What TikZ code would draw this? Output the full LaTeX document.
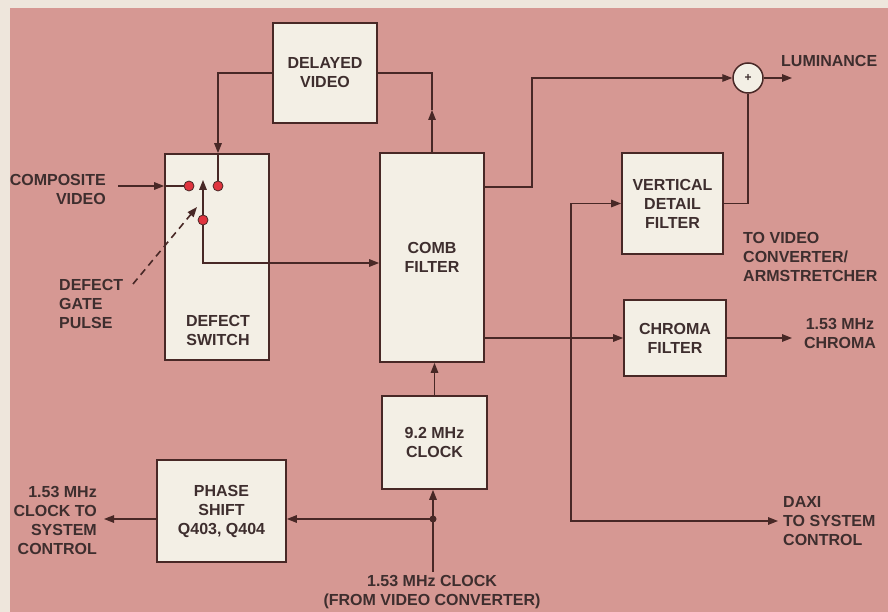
\documentclass[tikz,border=0pt]{standalone}
\usepackage{fontspec}
\setmainfont{Liberation Sans}
\usetikzlibrary{arrows.meta}
\definecolor{bgpink}{RGB}{214,152,147}
\definecolor{strip}{RGB}{238,230,220}
\definecolor{boxfill}{RGB}{243,239,229}
\definecolor{ink}{RGB}{72,40,38}
\definecolor{txt}{RGB}{62,46,46}
\definecolor{dotred}{RGB}{224,52,62}
\begin{document}
\begin{tikzpicture}[x=1pt,y=-1pt,
  every node/.style={font=\fontsize{16}{19}\selectfont\bfseries, text=txt},
  blk/.style={draw=ink, line width=1.7pt, fill=boxfill, inner sep=0pt, align=center},
  conn/.style={draw=ink, line width=1.4pt},
  arr/.style={conn, -{Triangle[length=10pt,width=7.5pt]}},
  lbl/.style={inner sep=0pt},
  reddot/.style={circle, draw=ink, line width=0.8pt, fill=dotred, minimum size=10pt, inner sep=0pt}]
\useasboundingbox (0,0) rectangle (888,612);
\fill[strip] (0,0) rectangle (888,612);
\fill[bgpink] (10,8) rectangle (888,612);

% blocks
\node[blk, minimum width=104pt, minimum height=100pt] (dv) at (325,73) {DELAYED\\VIDEO};
\node[blk, minimum width=104pt, minimum height=206pt] (sw) at (217,257) {};
\node[lbl, align=center] (swl) at (218,330) {DEFECT\\SWITCH};
\node[blk, minimum width=104pt, minimum height=209pt] (comb) at (432,257.5) {COMB\\FILTER};
\node[blk, minimum width=101pt, minimum height=101pt] (vdf) at (672.5,203.5) {VERTICAL\\DETAIL\\FILTER};
\node[blk, minimum width=102pt, minimum height=76pt] (chroma) at (675,338) {CHROMA\\FILTER};
\node[blk, minimum width=105pt, minimum height=93pt] (clk) at (434.5,442.5) {9.2 MHz\\CLOCK};
\node[blk, minimum width=129pt, minimum height=102pt] (ps) at (221.5,511) {PHASE\\SHIFT\\Q403, Q404};
\node[circle, draw=ink, line width=1.5pt, fill=boxfill, minimum size=30pt, inner sep=0pt,
      font=\fontsize{12}{12}\selectfont\bfseries] (sum) at (748,78) {+};

% switch contacts
\node[reddot] (d1) at (189,186) {};
\node[reddot] (d2) at (218,186) {};
\node[reddot] (d3) at (203,220) {};

% labels
\node[lbl, anchor=east, align=right] (comp) at (106,189) {COMPOSITE\\VIDEO};
\node[lbl, anchor=west, align=left] (gate) at (59,304) {DEFECT\\GATE\\PULSE};
\node[lbl, anchor=west] (lum) at (781,61) {LUMINANCE};
\node[lbl, anchor=west, align=left] (tovc) at (743,257) {TO VIDEO\\CONVERTER/\\ARMSTRETCHER};
\node[lbl, align=center] (chout) at (840,333) {1.53 MHz\\CHROMA};
\node[lbl, anchor=east, align=right] (clkout) at (97,520) {1.53 MHz\\CLOCK TO\\SYSTEM\\CONTROL};
\node[lbl, anchor=west, align=left] (daxi) at (783,521) {DAXI\\TO SYSTEM\\CONTROL};
\node[lbl, align=center] (clkin) at (432,592) {1.53 MHz CLOCK\\(FROM VIDEO CONVERTER)};

% helper coordinates
\coordinate (compin) at (118,186);
\coordinate (y263) at (0,263);
\coordinate (y187) at (0,187);
\coordinate (x532) at (532,0);
\coordinate (x571) at (571,0);
\coordinate (upmark) at (432,110);
\coordinate (armtip) at (203,180);
\coordinate (gatestart) at (133,284);
\coordinate (gatetip) at (197,207);
\coordinate (lumend) at (792,78);
\coordinate (chend) at (792,338);
\coordinate (daxiend) at (778,521);
\coordinate (psend) at (104,519);
\coordinate (bin) at (433,572);
\coordinate (jj) at (433,519);

% connectors
\draw[arr] (compin) -- (sw.west |- d1);
\draw[conn] (sw.west |- d1) -- (d1);
\draw[arr] (dv.west) -| (sw.north -| d2);
\draw[conn] (sw.north -| d2) -- (d2);
\draw[arr] (comb.north) -- (comb.north |- upmark);
\draw[conn] (comb.north |- upmark) |- (dv.east);
\draw[arr] (d3) -- (armtip);
\draw[arr, dash pattern=on 7pt off 5pt, line width=1.6pt] (gatestart) -- (gatetip);
\draw[arr] (d3) |- (comb.west |- y263);
\draw[arr] (comb.east |- y187) -| (x532 |- sum.west) -- (sum.west);
\draw[arr] (sum.east) -- (lumend);
\draw[conn] (vdf.east) -| (sum.south);
\draw[arr] (comb.east |- chroma.west) -- (chroma.west);
\draw[arr] (x571 |- chroma.west) |- (vdf.west);
\draw[arr] (x571 |- chroma.west) |- (daxiend);
\draw[arr] (chroma.east) -- (chend);
\draw[arr] (clk.north) -- (clk.north |- comb.south);
\draw[arr] (bin) -- (clk.south -| bin);
\draw[arr] (jj) -- (ps.east |- jj);
\draw[arr] (ps.west |- jj) -- (psend);
\fill[ink] (jj) circle (3.5pt);
\end{tikzpicture}
\end{document}
